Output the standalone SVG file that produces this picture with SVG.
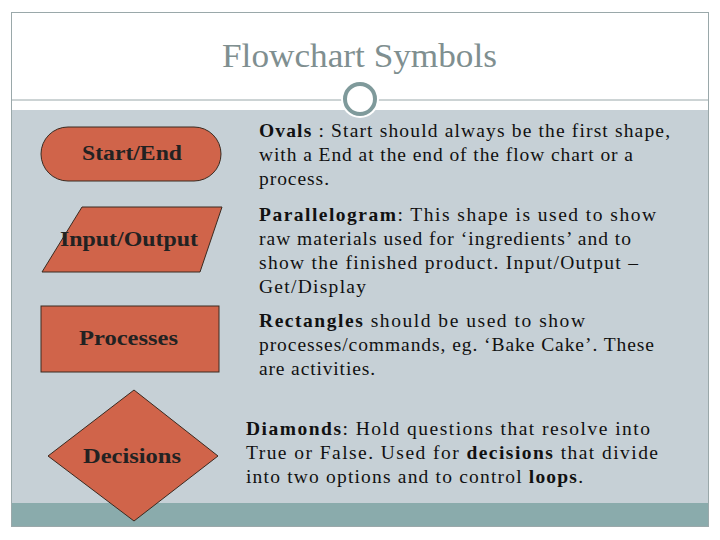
<svg xmlns="http://www.w3.org/2000/svg" width="720" height="540" viewBox="0 0 720 540">
<style>
.shape{fill:#d0644a;stroke:#3a2a20;stroke-width:1}
.lbl{font-family:"Liberation Serif",serif;font-size:20px;font-weight:bold;fill:#222}
.body{font-family:"Liberation Serif",serif;font-size:19.5px;fill:#111}
.b{font-weight:bold}
</style>
<rect x="0" y="0" width="720" height="540" fill="#fff"/>
<rect x="11" y="110" width="698" height="394" fill="#c6d0d6"/>
<rect x="11" y="503" width="698" height="24" fill="#8aabac"/>
<rect x="11.5" y="12.5" width="697" height="514" fill="none" stroke="#9aa8aa"/>
<line x1="11" y1="100" x2="709" y2="100" stroke="#9aa8aa"/>
<circle cx="360" cy="99" r="19" fill="#fff"/>
<circle cx="360" cy="99" r="15" fill="#fff" stroke="#7f9a9b" stroke-width="4"/>
<text x="222" y="67" font-family="Liberation Serif,serif" font-size="34" fill="#7f8f90" textLength="275" lengthAdjust="spacingAndGlyphs">Flowchart Symbols</text>
<g id="node-startend"><rect class="shape" x="41" y="127" width="180" height="54" rx="27"/><text class="lbl" x="82" y="160" textLength="100" lengthAdjust="spacingAndGlyphs">Start/End</text></g>
<g id="node-io"><polygon class="shape" points="82,207 222,207 200,272 42,272"/><text class="lbl" x="60" y="246" textLength="138" lengthAdjust="spacingAndGlyphs">Input/Output</text></g>
<g id="node-process"><rect class="shape" x="41" y="306" width="178" height="66"/><text class="lbl" x="79" y="345" textLength="99" lengthAdjust="spacingAndGlyphs">Processes</text></g>
<g id="node-decision"><polygon class="shape" points="134,390 218,456 134,521 48,456"/><text class="lbl" x="83" y="463" textLength="98" lengthAdjust="spacingAndGlyphs">Decisions</text></g>
<g id="connectors"/>
<g class="body">
<text x="259" y="137" textLength="411"><tspan class="b">Ovals</tspan> :  Start should always be the first shape,</text>
<text x="259" y="161" textLength="374">with a End at the end of the flow chart or a</text>
<text x="259" y="185" textLength="70">process.</text>
<text x="259" y="221" textLength="397"><tspan class="b">Parallelogram</tspan>:  This shape is used to show</text>
<text x="259" y="245" textLength="372">raw materials used for ‘ingredients’ and to</text>
<text x="259" y="269" textLength="379">show the finished product. Input/Output –</text>
<text x="259" y="293" textLength="107">Get/Display</text>
<text x="259" y="327" textLength="326"><tspan class="b">Rectangles</tspan>  should be used to show</text>
<text x="259" y="351" textLength="395">processes/commands, eg. ‘Bake Cake’. These</text>
<text x="259" y="375" textLength="116">are activities.</text>
<text x="246" y="435" textLength="404"><tspan class="b">Diamonds</tspan>:  Hold questions that resolve into</text>
<text x="246" y="459" textLength="412">True or False.  Used for <tspan class="b">decisions</tspan> that  divide</text>
<text x="246" y="483" textLength="337">into two options and to control <tspan class="b">loops</tspan>.</text>
</g>
</svg>
